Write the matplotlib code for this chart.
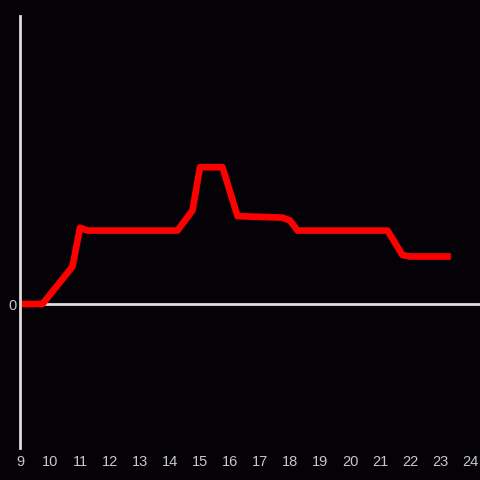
import matplotlib.pyplot as plt

# hours of the day and the reading at each point
hours = [9, 9.75, 10.75, 11.0, 11.25, 14.25, 14.75, 15.0, 15.75, 16.25, 17.75, 18.0, 18.25, 21.25, 21.75, 22.0, 23.25]
values = [0, 0, 1.3, 2.65, 2.55, 2.55, 3.25, 4.75, 4.75, 3.05, 3.0, 2.9, 2.55, 2.55, 1.7, 1.65, 1.65]
x_ticks = list(range(9, 25))

bg = '#040206'
axis_col = '#dcdcdc'
text_col = '#c8c8c8'

fig = plt.figure(figsize=(4.8, 4.8), dpi=100, facecolor=bg)
ax = fig.add_axes([20 / 480, 32 / 480, 460 / 480, 432 / 480], facecolor=bg)

# zero line and left axis
ax.axhline(0, color=axis_col, linewidth=2, zorder=1)
ax.plot(hours, values, color='#ff0000', linewidth=4.8, zorder=2)

ax.set_xlim(9, 9 + 460 / 30)
ax.set_ylim(-5, 10)

for side in ['top', 'right', 'bottom']:
    ax.spines[side].set_visible(False)
ax.spines['left'].set_color(axis_col)
ax.spines['left'].set_linewidth(2)
ax.spines['left'].set_zorder(3)

ax.set_xticks(x_ticks)
ax.set_xticklabels([str(t) for t in x_ticks])
ax.set_yticks([0])
ax.set_yticklabels(['0'])
ax.tick_params(axis='x', length=0, pad=5, colors=text_col, labelsize=10.5)
ax.tick_params(axis='y', length=0, pad=2.5, colors=text_col, labelsize=10.5)
for lbl in ax.get_xticklabels() + ax.get_yticklabels():
    lbl.set_fontfamily('Liberation Sans')

fig.savefig('out.png', dpi=100, facecolor=bg)
